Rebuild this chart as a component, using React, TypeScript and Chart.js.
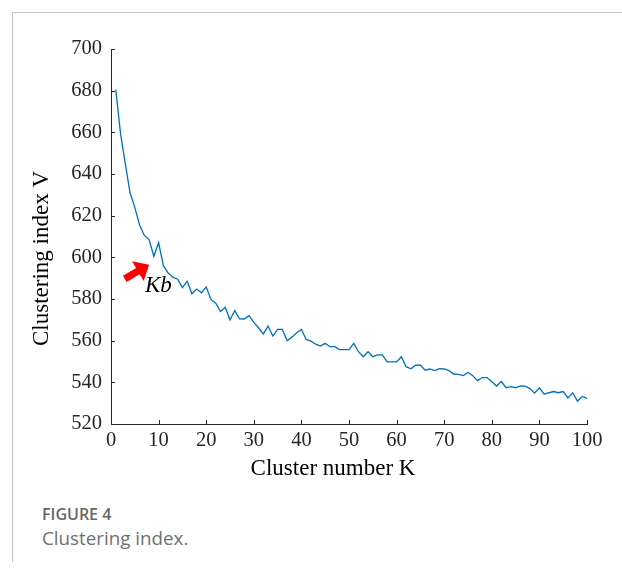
import React, { useEffect, useRef } from "react";
import { Chart, registerables } from "chart.js";

Chart.register(...registerables);

// Cluster number K (categories)
const clusterK: number[] = [
  1, 2, 3, 4, 5, 6, 7, 8, 9, 10,
  11, 12, 13, 14, 15, 16, 17, 18, 19, 20,
  21, 22, 23, 24, 25, 26, 27, 28, 29, 30,
  31, 32, 33, 34, 35, 36, 37, 38, 39, 40,
  41, 42, 43, 44, 45, 46, 47, 48, 49, 50,
  51, 52, 53, 54, 55, 56, 57, 58, 59, 60,
  61, 62, 63, 64, 65, 66, 67, 68, 69, 70,
  71, 72, 73, 74, 75, 76, 77, 78, 79, 80,
  81, 82, 83, 84, 85, 86, 87, 88, 89, 90,
  91, 92, 93, 94, 95, 96, 97, 98, 99, 100,
];

// Clustering index V (series values)
const clusteringIndexV: number[] = [
  680.5, 659.5, 645, 631, 624, 615.5, 610.5, 608.5, 600.5, 607,
  596, 592.5, 590.5, 589.5, 585.5, 588.5, 582.5, 584.8, 583, 585.8,
  579.8, 578, 574, 576, 570, 574.4, 570.5, 570.4, 572, 568.8,
  566.2, 563.2, 567, 562.2, 565.4, 565.4, 560, 561.7, 563.8, 565.4,
  560.6, 559.8, 558.3, 557.4, 558.7, 557.1, 557.1, 555.7, 555.7, 555.7,
  558.7, 554.7, 552.3, 554.7, 552.3, 553.2, 553.2, 549.8, 549.8, 549.8,
  552.3, 547.5, 546.5, 548.2, 548.3, 545.8, 546.4, 545.6, 546.6, 546.4,
  545.6, 544, 543.8, 543.2, 544.7, 543.2, 540.8, 542.3, 542.3, 540.3,
  538.2, 540.4, 537.4, 537.9, 537.4, 538.3, 538.2, 537, 534.8, 537.4,
  534.3, 535, 535.6, 535, 535.6, 532.5, 535, 531, 533.2, 532.3,
];

// Axis ranges / tick steps
const xRange: number[] = [0, 100];
const xStep = 10;
const yRange: number[] = [520, 700];
const yStep = 20;

// Text
const xTitle = "Cluster number K";
const yTitle = "Clustering index V";
const annotationText = "Kb";
const figureLabel = "FIGURE 4";
const figureCaption = "Clustering index.";

// Annotation anchor points in data units [K, V]
const arrowTail: number[] = [2.9, 589.7];
const arrowTip: number[] = [8.0, 596.5];
const annotationPos: number[] = [9.95, 583.6];

const AXIS_COLOR = "#262626";
const LINE_COLOR = "#0072BD";
const SERIF = "'Liberation Serif', 'Times New Roman', serif";

const decorPlugin = {
  id: "decor",
  afterDraw(chart: any) {
    const ctx = chart.ctx as CanvasRenderingContext2D;
    const xs = chart.scales.x;
    const ys = chart.scales.y;
    const area = chart.chartArea;
    ctx.save();

    // inward tick marks
    ctx.strokeStyle = AXIS_COLOR;
    ctx.lineWidth = 1;
    ctx.beginPath();
    xs.ticks.forEach((t: any) => {
      const px = Math.round(xs.getPixelForValue(t.value)) + 0.5;
      ctx.moveTo(px, area.bottom);
      ctx.lineTo(px, area.bottom - 4);
    });
    ys.ticks.forEach((t: any) => {
      const py = Math.round(ys.getPixelForValue(t.value)) + 0.5;
      ctx.moveTo(area.left, py);
      ctx.lineTo(area.left + 4, py);
    });
    ctx.stroke();

    // axis titles
    ctx.fillStyle = "#000";
    ctx.font = `23px ${SERIF}`;
    ctx.textAlign = "center";
    ctx.textBaseline = "middle";
    const cx = (area.left + area.right) / 2 - 16;
    ctx.fillText(xTitle, cx, area.bottom + 45);
    ctx.save();
    ctx.translate(area.left - 69, (area.top + area.bottom) / 2 + 22);
    ctx.rotate(-Math.PI / 2);
    ctx.fillText(yTitle, 0, 0);
    ctx.restore();

    // red arrow
    const tx = xs.getPixelForValue(arrowTail[0]);
    const ty = ys.getPixelForValue(arrowTail[1]);
    const hx = xs.getPixelForValue(arrowTip[0]);
    const hy = ys.getPixelForValue(arrowTip[1]);
    const dx = hx - tx;
    const dy = hy - ty;
    const len = Math.sqrt(dx * dx + dy * dy);
    const ux = dx / len;
    const uy = dy / len;
    const nx = -uy;
    const ny = ux;
    const headLen = 13;
    const headHalf = 11.5;
    const shaftHalf = 3.6;
    const bx = hx - ux * headLen;
    const by = hy - uy * headLen;
    ctx.fillStyle = "#ff0000";
    ctx.beginPath();
    ctx.moveTo(tx + nx * shaftHalf, ty + ny * shaftHalf);
    ctx.lineTo(bx + nx * shaftHalf, by + ny * shaftHalf);
    ctx.lineTo(bx + nx * headHalf, by + ny * headHalf);
    ctx.lineTo(hx, hy);
    ctx.lineTo(bx - nx * headHalf, by - ny * headHalf);
    ctx.lineTo(bx - nx * shaftHalf, by - ny * shaftHalf);
    ctx.lineTo(tx - nx * shaftHalf, ty - ny * shaftHalf);
    ctx.closePath();
    ctx.fill();

    // annotation text
    ctx.fillStyle = "#000";
    ctx.font = `italic 23px ${SERIF}`;
    ctx.textAlign = "center";
    ctx.textBaseline = "alphabetic";
    ctx.fillText(
      annotationText,
      xs.getPixelForValue(annotationPos[0]),
      ys.getPixelForValue(annotationPos[1])
    );
    ctx.restore();
  },
};

export default function App() {
  const canvasRef = useRef<HTMLCanvasElement | null>(null);

  useEffect(() => {
    if (!canvasRef.current) return;
    const points = clusterK.map((k, i) => ({ x: k, y: clusteringIndexV[i] }));
    const chart = new Chart(canvasRef.current, {
      type: "line",
      data: {
        datasets: [
          {
            data: points,
            borderColor: LINE_COLOR,
            borderWidth: 1.3,
            pointRadius: 0,
            tension: 0,
            fill: false,
          },
        ],
      },
      options: {
        animation: false,
        responsive: false,
        devicePixelRatio: 1,
        layout: { padding: { top: 49, right: 35, left: 0, bottom: 0 } },
        plugins: {
          legend: { display: false },
          tooltip: { enabled: false },
        },
        scales: {
          x: {
            type: "linear",
            min: xRange[0],
            max: xRange[1],
            afterFit: (s: any) => {
              s.height = 66;
            },
            ticks: {
              stepSize: xStep,
              color: AXIS_COLOR,
              font: { family: SERIF, size: 20.5 },
              padding: 4,
              maxRotation: 0,
              autoSkip: false,
            },
            grid: { drawOnChartArea: false, drawTicks: false },
            border: { display: true, color: AXIS_COLOR, width: 1 },
          },
          y: {
            type: "linear",
            min: yRange[0],
            max: yRange[1],
            afterFit: (s: any) => {
              s.width = 111;
            },
            ticks: {
              stepSize: yStep,
              color: AXIS_COLOR,
              font: { family: SERIF, size: 20.5 },
              padding: 9,
              autoSkip: false,
            },
            grid: { drawOnChartArea: false, drawTicks: false },
            border: { display: true, color: AXIS_COLOR, width: 1 },
          },
        },
      },
      plugins: [decorPlugin],
    });
    return () => chart.destroy();
  }, []);

  return (
    <div
      style={{
        position: "absolute",
        left: 0,
        top: 0,
        width: 622,
        height: 569,
        background: "#fff",
        overflow: "hidden",
      }}
    >
      <div
        style={{
          position: "absolute",
          left: 12,
          top: 12,
          width: 610,
          height: 0,
          borderTop: "1.5px solid #c4c4c4",
        }}
      />
      <div
        style={{
          position: "absolute",
          left: 12,
          top: 12,
          width: 0,
          height: 550,
          borderLeft: "1.5px solid #c4c4c4",
        }}
      />
      <canvas
        ref={canvasRef}
        width={622}
        height={490}
        style={{ position: "absolute", left: 0, top: 0, width: 622, height: 490 }}
      />
      <div
        style={{
          position: "absolute",
          left: 42,
          top: 504,
          fontFamily: "'Open Sans', sans-serif",
          fontWeight: 600,
          fontSize: 16,
          lineHeight: "20px",
          color: "#666666",
          whiteSpace: "nowrap",
        }}
      >
        {figureLabel}
      </div>
      <div
        style={{
          position: "absolute",
          left: 42,
          top: 527,
          fontFamily: "'Open Sans', sans-serif",
          fontWeight: 400,
          fontSize: 18.8,
          lineHeight: "22px",
          color: "#707070",
          whiteSpace: "nowrap",
        }}
      >
        {figureCaption}
      </div>
    </div>
  );
}
